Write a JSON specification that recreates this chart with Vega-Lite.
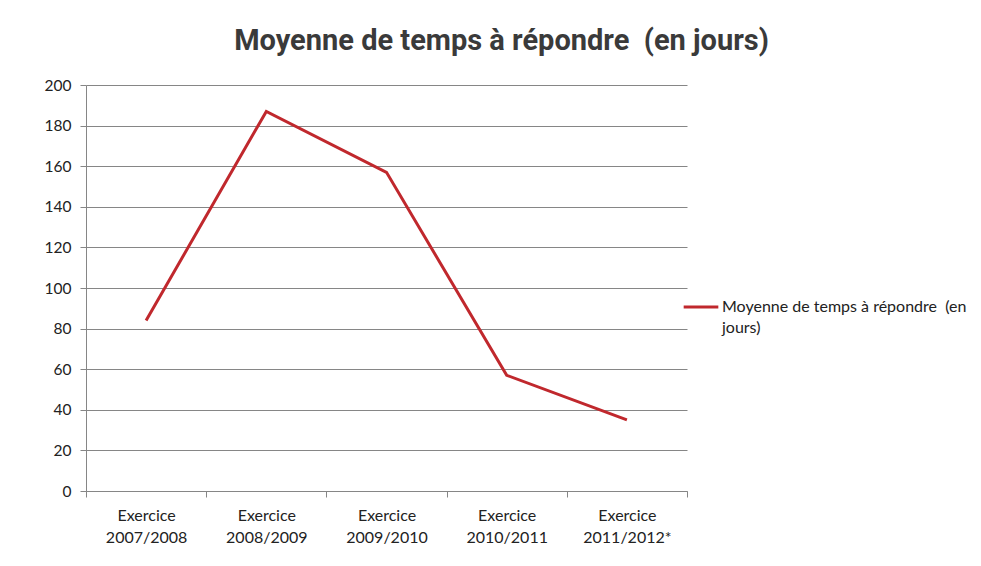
{
  "$schema": "https://vega.github.io/schema/vega-lite/v6.json",
  "autosize": "none",
  "width": 601,
  "height": 406,
  "padding": {"left": 86, "top": 85, "right": 294, "bottom": 75},
  "background": "white",
  "title": {
    "text": "Moyenne de temps à répondre\u00a0 (en jours)",
    "font": "Roboto",
    "fontWeight": "bold",
    "fontSize": 29,
    "color": "#3a3a3a",
    "anchor": "middle",
    "dx": 115,
    "offset": 22
  },
  "data": {
    "values": [
      {"exercice": "Exercice 2007/2008", "serie": "Moyenne de temps à répondre  (en jours)", "jours": 84},
      {"exercice": "Exercice 2008/2009", "serie": "Moyenne de temps à répondre  (en jours)", "jours": 187},
      {"exercice": "Exercice 2009/2010", "serie": "Moyenne de temps à répondre  (en jours)", "jours": 157},
      {"exercice": "Exercice 2010/2011", "serie": "Moyenne de temps à répondre  (en jours)", "jours": 57},
      {"exercice": "Exercice 2011/2012*", "serie": "Moyenne de temps à répondre  (en jours)", "jours": 35}
    ]
  },
  "mark": {"type": "line", "strokeWidth": 3, "strokeCap": "butt"},
  "encoding": {
    "x": {
      "field": "exercice",
      "type": "nominal",
      "sort": null,
      "scale": {"type": "band", "paddingInner": 0, "paddingOuter": 0},
      "axis": {
        "title": null,
        "labelAngle": 0,
        "labelExpr": "split(datum.label, ' ')",
        "labelFontSize": 16,
        "labelLineHeight": 22,
        "labelPadding": 10,
        "tickBand": "extent",
        "tickSize": 6,
        "tickColor": "#868686",
        "domainColor": "#868686",
        "grid": false
      }
    },
    "y": {
      "field": "jours",
      "type": "quantitative",
      "scale": {"domain": [0, 200], "nice": false},
      "axis": {
        "title": null,
        "values": [0, 20, 40, 60, 80, 100, 120, 140, 160, 180, 200],
        "labelFontSize": 15.5,
        "tickSize": 6,
        "labelPadding": 9,
        "tickColor": "#868686",
        "domainColor": "#868686",
        "gridColor": "#868686",
        "grid": true
      }
    },
    "color": {
      "field": "serie",
      "type": "nominal",
      "scale": {"range": ["#C0282D"]},
      "legend": {
        "title": null,
        "orient": "none",
        "legendX": 596,
        "legendY": 203,
        "symbolType": "stroke",
        "symbolSize": 1200,
        "symbolStrokeWidth": 3,
        "labelExpr": "['Moyenne de temps à répondre\u00a0 (en', 'jours)']",
        "labelFont": "Lato",
        "labelFontSize": 16,
        "labelColor": "#222222",
        "labelLimit": 400,
        "labelOffset": 2,
        "encode": {"labels": {"update": {"lineHeight": {"value": 21}}}}
      }
    }
  },
  "config": {
    "view": {"stroke": null},
    "axis": {
      "labelFont": "Lato",
      "labelColor": "#222222",
      "domainWidth": 1,
      "gridWidth": 1
    }
  }
}
